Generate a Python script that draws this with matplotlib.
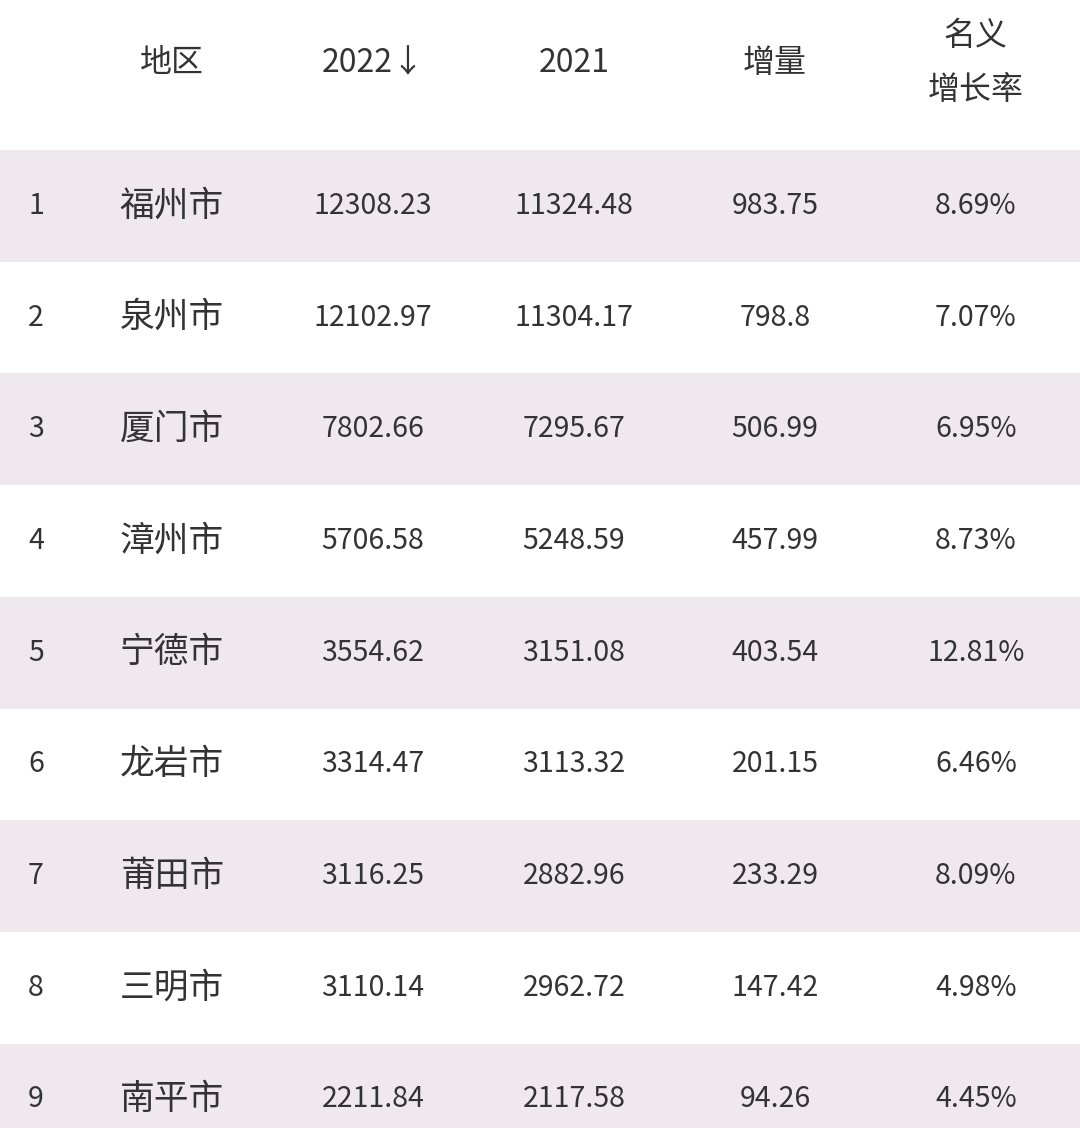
import matplotlib
matplotlib.use('Agg')
import matplotlib.pyplot as plt

plt.rcParams['font.family'] = 'Noto Sans CJK SC'

headers = ['', '地区', '2022↓', '2021', '增量', '名义\n增长率']
regions = ['福州市', '泉州市', '厦门市', '漳州市', '宁德市', '龙岩市', '莆田市', '三明市', '南平市']
gdp_2022 = ['12308.23', '12102.97', '7802.66', '5706.58', '3554.62', '3314.47', '3116.25', '3110.14', '2211.84']
gdp_2021 = ['11324.48', '11304.17', '7295.67', '5248.59', '3151.08', '3113.32', '2882.96', '2962.72', '2117.58']
increase = ['983.75', '798.8', '506.99', '457.99', '403.54', '201.15', '233.29', '147.42', '94.26']
growth = ['8.69%', '7.07%', '6.95%', '8.73%', '12.81%', '6.46%', '8.09%', '4.98%', '4.45%']

W, H = 1080, 1128
col_x = [36, 172, 373, 574, 775, 976]
header_h = 150
row_h = 111.7

fig = plt.figure(figsize=(W / 100, H / 100), dpi=100)
ax = fig.add_axes([0, 0, 1, 1])
ax.set_xlim(0, W)
ax.set_ylim(H, 0)
ax.axis('off')

text_color = '#333333'

# header
for x, h in zip(col_x, headers):
    if h:
        ax.text(x, 63, h, ha='center', va='center', fontsize=23,
                color=text_color, linespacing=1.9)

# striped rows
centers = [header_h + row_h * (i + 0.5) for i in range(len(regions))]
stripe = [c for i, c in enumerate(centers) if i % 2 == 0]
ax.barh(stripe, W, height=row_h, left=0, color='#efe9ed', zorder=0)

for i, yc in enumerate(centers):
    vals = [str(i + 1), regions[i], gdp_2022[i], gdp_2021[i], increase[i], growth[i]]
    for j, (x, v) in enumerate(zip(col_x, vals)):
        ax.text(x, yc, v, ha='center', va='center',
                fontsize=25 if j == 1 else 20.5, color=text_color)

fig.savefig('out.png', dpi=100)
